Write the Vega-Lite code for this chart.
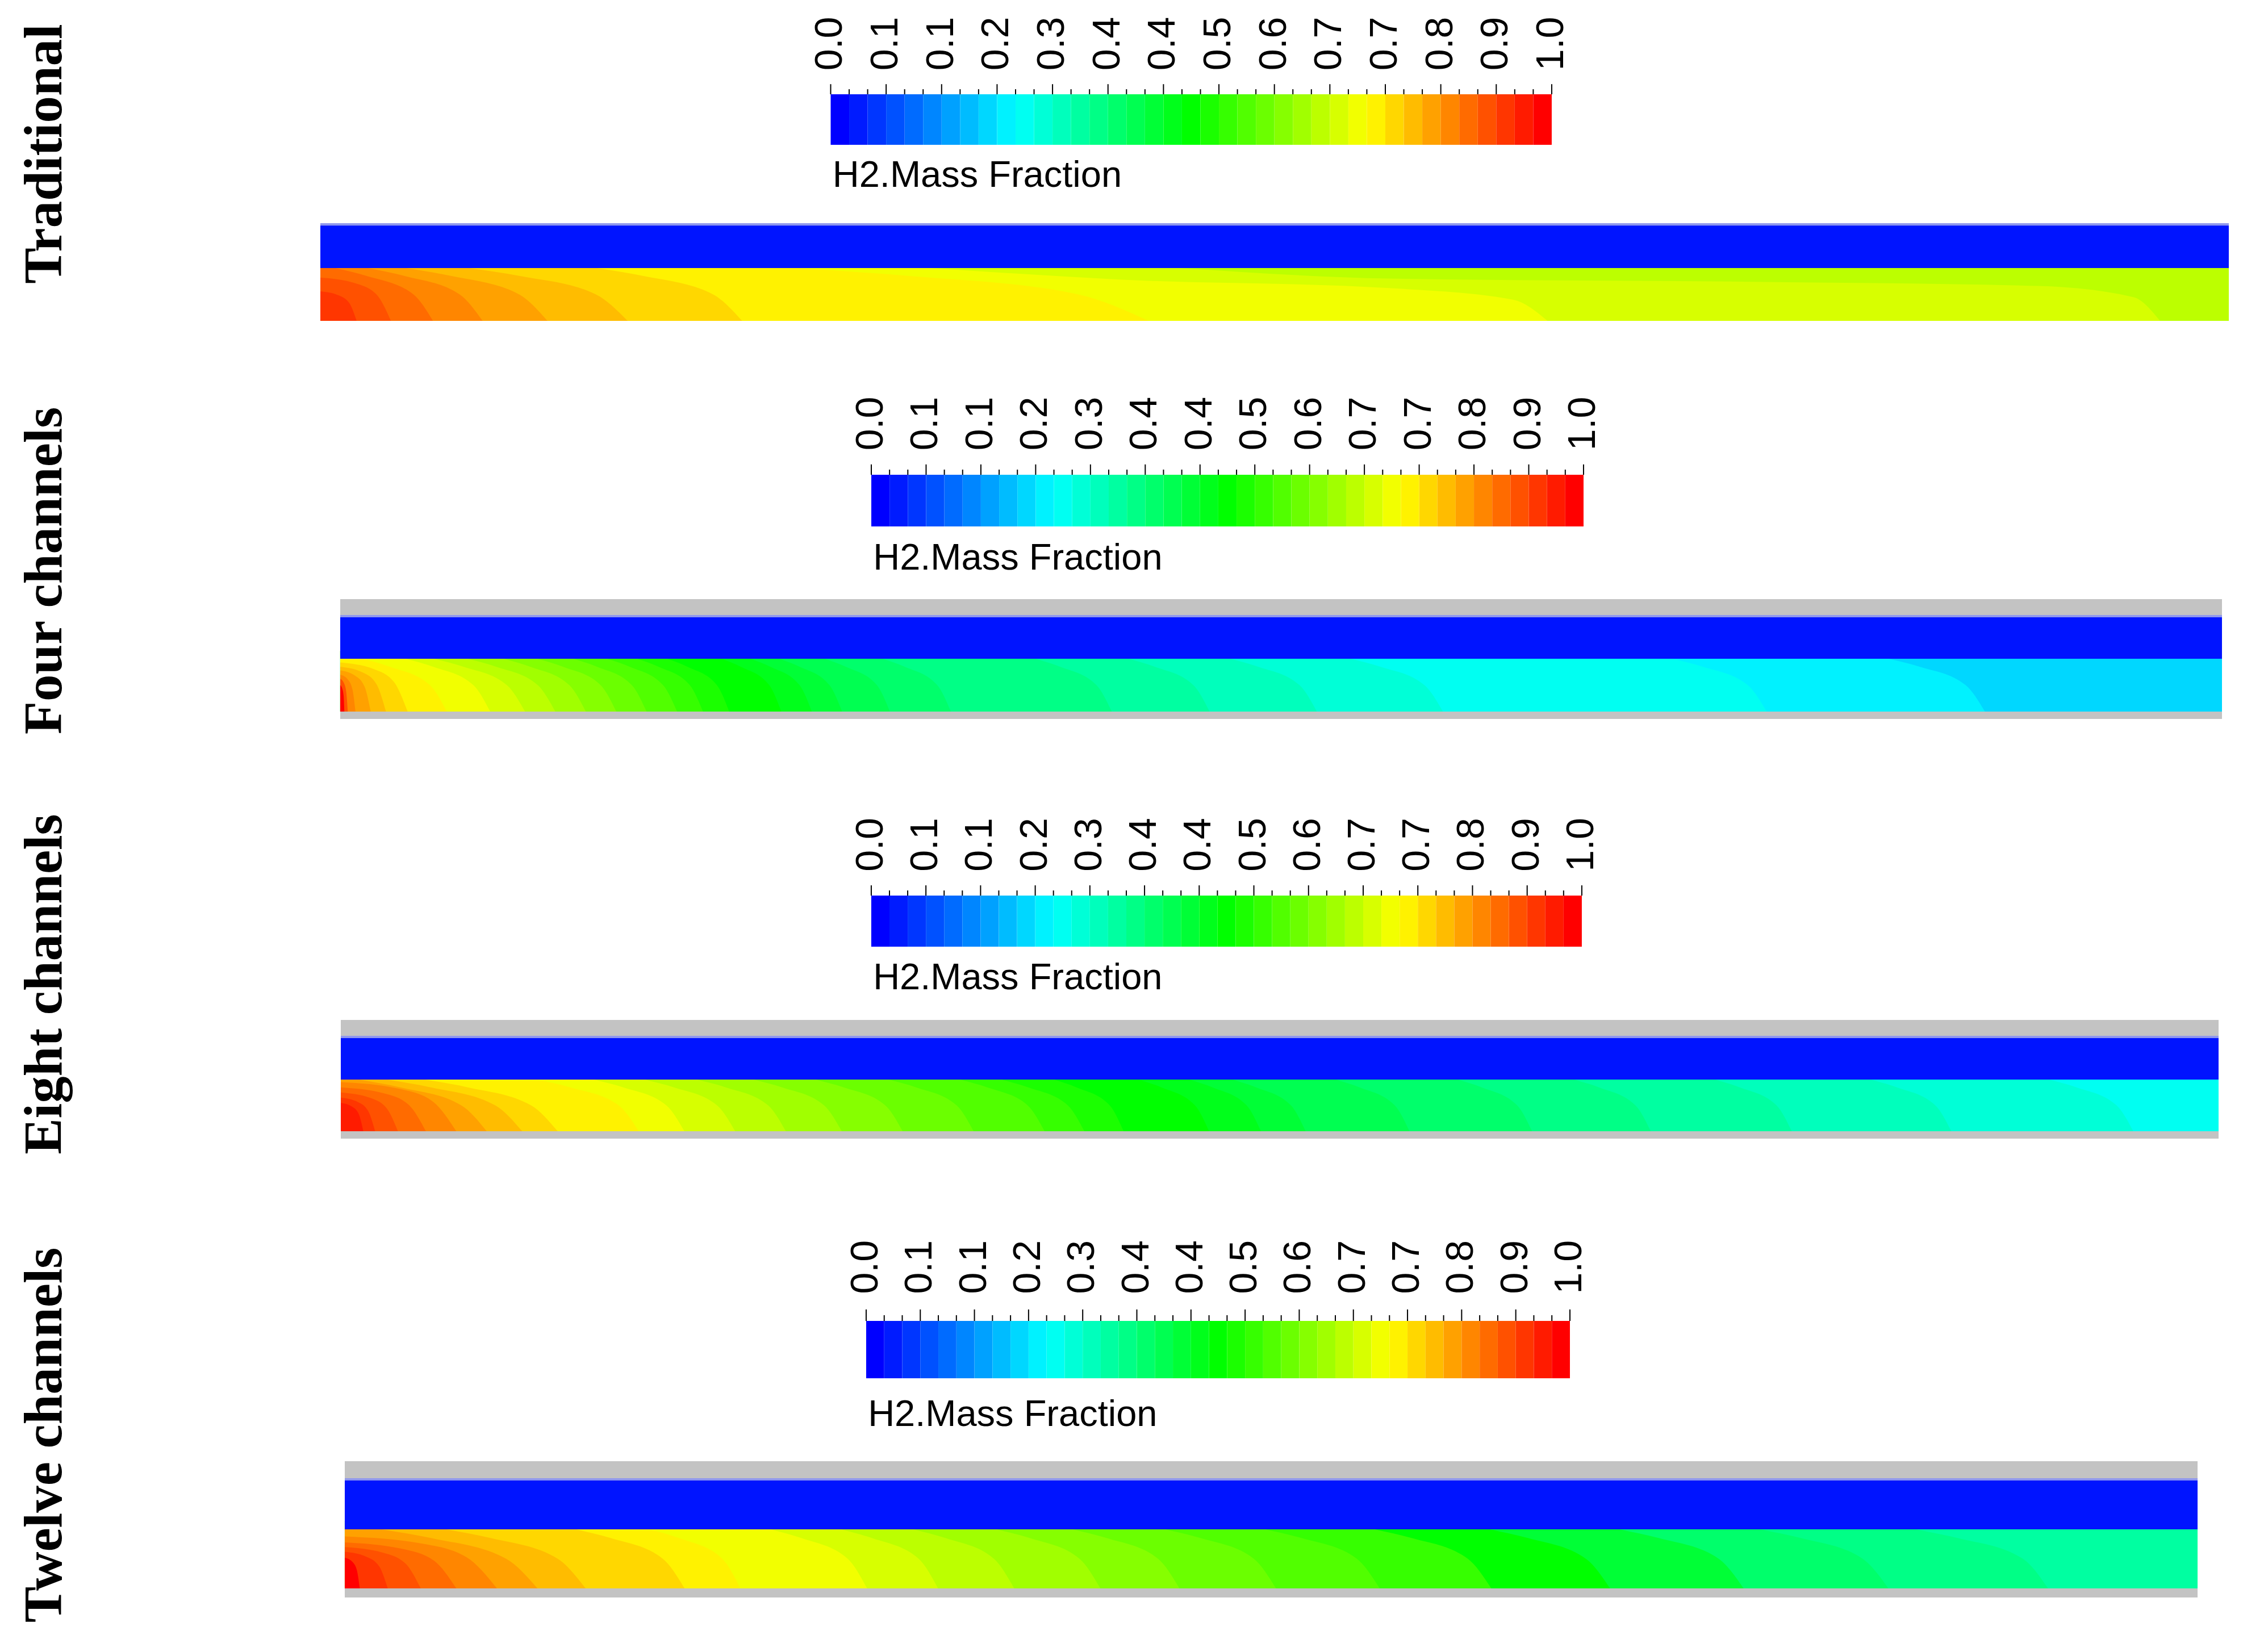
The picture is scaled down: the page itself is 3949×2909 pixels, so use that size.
{
"$schema": "https://vega.github.io/schema/vega-lite/v6.json",
"background": "#ffffff",
"padding": 0,
"spacing": 0,
"bounds": "flush",
"config": {"view": {"stroke": null}},
"datasets": {
"bar": [
{"level":0,"from":0,"to":1},{"level":1,"from":1,"to":2},{"level":2,"from":2,"to":3},{"level":3,"from":3,"to":4},{"level":4,"from":4,"to":5},{"level":5,"from":5,"to":6},{"level":6,"from":6,"to":7},{"level":7,"from":7,"to":8},{"level":8,"from":8,"to":9},{"level":9,"from":9,"to":10},
{"level":10,"from":10,"to":11},{"level":11,"from":11,"to":12},{"level":12,"from":12,"to":13},{"level":13,"from":13,"to":14},{"level":14,"from":14,"to":15},{"level":15,"from":15,"to":16},{"level":16,"from":16,"to":17},{"level":17,"from":17,"to":18},{"level":18,"from":18,"to":19},{"level":19,"from":19,"to":20},
{"level":20,"from":20,"to":21},{"level":21,"from":21,"to":22},{"level":22,"from":22,"to":23},{"level":23,"from":23,"to":24},{"level":24,"from":24,"to":25},{"level":25,"from":25,"to":26},{"level":26,"from":26,"to":27},{"level":27,"from":27,"to":28},{"level":28,"from":28,"to":29},{"level":29,"from":29,"to":30},
{"level":30,"from":30,"to":31},{"level":31,"from":31,"to":32},{"level":32,"from":32,"to":33},{"level":33,"from":33,"to":34},{"level":34,"from":34,"to":35},{"level":35,"from":35,"to":36},{"level":36,"from":36,"to":37},{"level":37,"from":37,"to":38},{"level":38,"from":38,"to":39}
],
"ticks": [
{"t":0,"kind":"major"},{"t":1,"kind":"minor"},{"t":2,"kind":"minor"},{"t":3,"kind":"major"},{"t":4,"kind":"minor"},{"t":5,"kind":"minor"},{"t":6,"kind":"major"},{"t":7,"kind":"minor"},{"t":8,"kind":"minor"},{"t":9,"kind":"major"},
{"t":10,"kind":"minor"},{"t":11,"kind":"minor"},{"t":12,"kind":"major"},{"t":13,"kind":"minor"},{"t":14,"kind":"minor"},{"t":15,"kind":"major"},{"t":16,"kind":"minor"},{"t":17,"kind":"minor"},{"t":18,"kind":"major"},{"t":19,"kind":"minor"},
{"t":20,"kind":"minor"},{"t":21,"kind":"major"},{"t":22,"kind":"minor"},{"t":23,"kind":"minor"},{"t":24,"kind":"major"},{"t":25,"kind":"minor"},{"t":26,"kind":"minor"},{"t":27,"kind":"major"},{"t":28,"kind":"minor"},{"t":29,"kind":"minor"},
{"t":30,"kind":"major"},{"t":31,"kind":"minor"},{"t":32,"kind":"minor"},{"t":33,"kind":"major"},{"t":34,"kind":"minor"},{"t":35,"kind":"minor"},{"t":36,"kind":"major"},{"t":37,"kind":"minor"},{"t":38,"kind":"minor"},{"t":39,"kind":"major"}
],
"labels": [
{"t":0,"label":"0.0"},{"t":3,"label":"0.1"},{"t":6,"label":"0.1"},{"t":9,"label":"0.2"},{"t":12,"label":"0.3"},{"t":15,"label":"0.4"},{"t":18,"label":"0.4"},{"t":21,"label":"0.5"},{"t":24,"label":"0.6"},{"t":27,"label":"0.7"},{"t":30,"label":"0.7"},{"t":33,"label":"0.8"},{"t":36,"label":"0.9"},{"t":39,"label":"1.0"}
],
"names": [
{"panel":1,"name":"Traditional"},{"panel":2,"name":"Four channels"},{"panel":3,"name":"Eight channels"},{"panel":4,"name":"Twelve channels"}
],
"bands": [
{"panel":1,"part":"blue","r0":1,"r1":1.8495},{"panel":1,"part":"edge","r0":1.805,"r1":1.8495},
{"panel":2,"part":"blue","r0":1,"r1":1.828},{"panel":2,"part":"wall","r0":1.828,"r1":2.129},{"panel":2,"part":"wall","r0":-0.1398,"r1":0},{"panel":2,"part":"edge","r0":1.785,"r1":1.828},
{"panel":3,"part":"blue","r0":1,"r1":1.846},{"panel":3,"part":"wall","r0":1.846,"r1":2.154},{"panel":3,"part":"wall","r0":-0.1429,"r1":0},{"panel":3,"part":"edge","r0":1.803,"r1":1.846},
{"panel":4,"part":"blue","r0":1,"r1":1.8654},{"panel":4,"part":"wall","r0":1.8654,"r1":2.1538},{"panel":4,"part":"wall","r0":-0.1538,"r1":0},{"panel":4,"part":"edge","r0":1.827,"r1":1.8654}
],
"contours": [
{"panel":1,"level":26,"z":0,"r":1},{"panel":1,"level":26,"z":1,"r":1},
{"panel":1,"level":27,"z":0,"r":1.15},{"panel":1,"level":27,"z":0.39,"r":1.15},{"panel":1,"level":27,"z":0.45,"r":1},{"panel":1,"level":27,"z":0.56,"r":0.8},{"panel":1,"level":27,"z":0.75,"r":0.74},{"panel":1,"level":27,"z":0.9,"r":0.66},{"panel":1,"level":27,"z":0.95,"r":0.45},{"panel":1,"level":27,"z":0.964,"r":0},
{"panel":1,"level":28,"z":0,"r":1.15},{"panel":1,"level":28,"z":0.26,"r":1.15},{"panel":1,"level":28,"z":0.32,"r":1},{"panel":1,"level":28,"z":0.42,"r":0.78},{"panel":1,"level":28,"z":0.56,"r":0.62},{"panel":1,"level":28,"z":0.625,"r":0.4},{"panel":1,"level":28,"z":0.643,"r":0},
{"panel":1,"level":29,"z":0,"r":1.15},{"panel":1,"level":29,"z":0.1911,"r":1.15},{"panel":1,"level":29,"z":0.25,"r":1},{"panel":1,"level":29,"z":0.3089,"r":0.85},{"panel":1,"level":29,"z":0.3972,"r":0.5},{"panel":1,"level":29,"z":0.434,"r":0},
{"panel":1,"level":30,"z":0,"r":1.15},{"panel":1,"level":30,"z":0.1207,"r":1.15},{"panel":1,"level":30,"z":0.145,"r":1},{"panel":1,"level":30,"z":0.1693,"r":0.85},{"panel":1,"level":30,"z":0.2058,"r":0.5},{"panel":1,"level":30,"z":0.221,"r":0},
{"panel":1,"level":31,"z":0,"r":1.15},{"panel":1,"level":31,"z":0.0514,"r":1.15},{"panel":1,"level":31,"z":0.078,"r":1},{"panel":1,"level":31,"z":0.1046,"r":0.85},{"panel":1,"level":31,"z":0.1444,"r":0.5},{"panel":1,"level":31,"z":0.161,"r":0},
{"panel":1,"level":32,"z":0,"r":1.15},{"panel":1,"level":32,"z":0.0213,"r":1.15},{"panel":1,"level":32,"z":0.045,"r":1},{"panel":1,"level":32,"z":0.0687,"r":0.85},{"panel":1,"level":32,"z":0.1042,"r":0.5},{"panel":1,"level":32,"z":0.119,"r":0},
{"panel":1,"level":33,"z":0,"r":1.15},{"panel":1,"level":33,"z":0.0058,"r":1.15},{"panel":1,"level":33,"z":0.025,"r":1},{"panel":1,"level":33,"z":0.0442,"r":0.85},{"panel":1,"level":33,"z":0.073,"r":0.5},{"panel":1,"level":33,"z":0.085,"r":0},
{"panel":1,"level":34,"z":0,"r":1.074},{"panel":1,"level":34,"z":0.008,"r":1},{"panel":1,"level":34,"z":0.0243,"r":0.85},{"panel":1,"level":34,"z":0.0488,"r":0.5},{"panel":1,"level":34,"z":0.059,"r":0},
{"panel":1,"level":35,"z":0,"r":0.82},{"panel":1,"level":35,"z":0.0185,"r":0.71},{"panel":1,"level":35,"z":0.0296,"r":0.492},{"panel":1,"level":35,"z":0.037,"r":0},
{"panel":1,"level":36,"z":0,"r":0.56},{"panel":1,"level":36,"z":0.0095,"r":0.485},{"panel":1,"level":36,"z":0.0152,"r":0.336},{"panel":1,"level":36,"z":0.019,"r":0},

{"panel":2,"level":8,"z":0,"r":1},{"panel":2,"level":8,"z":1,"r":1},
{"panel":2,"level":9,"z":0,"r":1.15},{"panel":2,"level":9,"z":0.8067,"r":1.15},{"panel":2,"level":9,"z":0.823,"r":1},{"panel":2,"level":9,"z":0.8393,"r":0.85},{"panel":2,"level":9,"z":0.8638,"r":0.5},{"panel":2,"level":9,"z":0.874,"r":0},
{"panel":2,"level":10,"z":0,"r":1.15},{"panel":2,"level":10,"z":0.692,"r":1.15},{"panel":2,"level":10,"z":0.708,"r":1},{"panel":2,"level":10,"z":0.724,"r":0.85},{"panel":2,"level":10,"z":0.748,"r":0.5},{"panel":2,"level":10,"z":0.758,"r":0},
{"panel":2,"level":11,"z":0,"r":1.15},{"panel":2,"level":11,"z":0.5213,"r":1.15},{"panel":2,"level":11,"z":0.537,"r":1},{"panel":2,"level":11,"z":0.5527,"r":0.85},{"panel":2,"level":11,"z":0.5762,"r":0.5},{"panel":2,"level":11,"z":0.586,"r":0},
{"panel":2,"level":12,"z":0,"r":1.15},{"panel":2,"level":12,"z":0.4583,"r":1.15},{"panel":2,"level":12,"z":0.473,"r":1},{"panel":2,"level":12,"z":0.4877,"r":0.85},{"panel":2,"level":12,"z":0.5098,"r":0.5},{"panel":2,"level":12,"z":0.519,"r":0},
{"panel":2,"level":13,"z":0,"r":1.15},{"panel":2,"level":13,"z":0.4052,"r":1.15},{"panel":2,"level":13,"z":0.419,"r":1},{"panel":2,"level":13,"z":0.4328,"r":0.85},{"panel":2,"level":13,"z":0.4534,"r":0.5},{"panel":2,"level":13,"z":0.462,"r":0},
{"panel":2,"level":14,"z":0,"r":1.15},{"panel":2,"level":14,"z":0.3565,"r":1.15},{"panel":2,"level":14,"z":0.3695,"r":1},{"panel":2,"level":14,"z":0.3825,"r":0.85},{"panel":2,"level":14,"z":0.4019,"r":0.5},{"panel":2,"level":14,"z":0.41,"r":0},
{"panel":2,"level":15,"z":0,"r":1.15},{"panel":2,"level":15,"z":0.2767,"r":1.15},{"panel":2,"level":15,"z":0.2883,"r":1},{"panel":2,"level":15,"z":0.2999,"r":0.85},{"panel":2,"level":15,"z":0.3173,"r":0.5},{"panel":2,"level":15,"z":0.3245,"r":0},
{"panel":2,"level":16,"z":0,"r":1.15},{"panel":2,"level":16,"z":0.2464,"r":1.15},{"panel":2,"level":16,"z":0.2575,"r":1},{"panel":2,"level":16,"z":0.2686,"r":0.85},{"panel":2,"level":16,"z":0.2852,"r":0.5},{"panel":2,"level":16,"z":0.2921,"r":0},
{"panel":2,"level":17,"z":0,"r":1.15},{"panel":2,"level":17,"z":0.2227,"r":1.15},{"panel":2,"level":17,"z":0.2334,"r":1},{"panel":2,"level":17,"z":0.2441,"r":0.85},{"panel":2,"level":17,"z":0.26,"r":0.5},{"panel":2,"level":17,"z":0.2667,"r":0},
{"panel":2,"level":18,"z":0,"r":1.15},{"panel":2,"level":18,"z":0.2077,"r":1.15},{"panel":2,"level":18,"z":0.2181,"r":1},{"panel":2,"level":18,"z":0.2285,"r":0.85},{"panel":2,"level":18,"z":0.2441,"r":0.5},{"panel":2,"level":18,"z":0.2506,"r":0},
{"panel":2,"level":19,"z":0,"r":1.15},{"panel":2,"level":19,"z":0.1926,"r":1.15},{"panel":2,"level":19,"z":0.2027,"r":1},{"panel":2,"level":19,"z":0.2128,"r":0.85},{"panel":2,"level":19,"z":0.228,"r":0.5},{"panel":2,"level":19,"z":0.2344,"r":0},
{"panel":2,"level":20,"z":0,"r":1.15},{"panel":2,"level":20,"z":0.1635,"r":1.15},{"panel":2,"level":20,"z":0.174,"r":1},{"panel":2,"level":20,"z":0.1845,"r":0.85},{"panel":2,"level":20,"z":0.2002,"r":0.5},{"panel":2,"level":20,"z":0.2067,"r":0},
{"panel":2,"level":21,"z":0,"r":1.15},{"panel":2,"level":21,"z":0.1469,"r":1.15},{"panel":2,"level":21,"z":0.158,"r":1},{"panel":2,"level":21,"z":0.1691,"r":0.85},{"panel":2,"level":21,"z":0.1858,"r":0.5},{"panel":2,"level":21,"z":0.1928,"r":0},
{"panel":2,"level":22,"z":0,"r":1.15},{"panel":2,"level":22,"z":0.1302,"r":1.15},{"panel":2,"level":22,"z":0.142,"r":1},{"panel":2,"level":22,"z":0.1538,"r":0.85},{"panel":2,"level":22,"z":0.1716,"r":0.5},{"panel":2,"level":22,"z":0.179,"r":0},
{"panel":2,"level":23,"z":0,"r":1.15},{"panel":2,"level":23,"z":0.1116,"r":1.15},{"panel":2,"level":23,"z":0.124,"r":1},{"panel":2,"level":23,"z":0.1364,"r":0.85},{"panel":2,"level":23,"z":0.155,"r":0.5},{"panel":2,"level":23,"z":0.1628,"r":0},
{"panel":2,"level":24,"z":0,"r":1.15},{"panel":2,"level":24,"z":0.0917,"r":1.15},{"panel":2,"level":24,"z":0.105,"r":1},{"panel":2,"level":24,"z":0.1183,"r":0.85},{"panel":2,"level":24,"z":0.1384,"r":0.5},{"panel":2,"level":24,"z":0.1467,"r":0},
{"panel":2,"level":25,"z":0,"r":1.15},{"panel":2,"level":25,"z":0.0731,"r":1.15},{"panel":2,"level":25,"z":0.087,"r":1},{"panel":2,"level":25,"z":0.1009,"r":0.85},{"panel":2,"level":25,"z":0.1218,"r":0.5},{"panel":2,"level":25,"z":0.1305,"r":0},
{"panel":2,"level":26,"z":0,"r":1.15},{"panel":2,"level":26,"z":0.0532,"r":1.15},{"panel":2,"level":26,"z":0.068,"r":1},{"panel":2,"level":26,"z":0.0828,"r":0.85},{"panel":2,"level":26,"z":0.105,"r":0.5},{"panel":2,"level":26,"z":0.1143,"r":0},
{"panel":2,"level":27,"z":0,"r":1.15},{"panel":2,"level":27,"z":0.0346,"r":1.15},{"panel":2,"level":27,"z":0.05,"r":1},{"panel":2,"level":27,"z":0.0654,"r":0.85},{"panel":2,"level":27,"z":0.0886,"r":0.5},{"panel":2,"level":27,"z":0.0982,"r":0},
{"panel":2,"level":28,"z":0,"r":1.15},{"panel":2,"level":28,"z":0.0207,"r":1.15},{"panel":2,"level":28,"z":0.035,"r":1},{"panel":2,"level":28,"z":0.0493,"r":0.85},{"panel":2,"level":28,"z":0.0708,"r":0.5},{"panel":2,"level":28,"z":0.0797,"r":0},
{"panel":2,"level":29,"z":0,"r":1.126},{"panel":2,"level":29,"z":0.012,"r":1},{"panel":2,"level":29,"z":0.0263,"r":0.85},{"panel":2,"level":29,"z":0.0477,"r":0.5},{"panel":2,"level":29,"z":0.0566,"r":0},
{"panel":2,"level":30,"z":0,"r":0.93},{"panel":2,"level":30,"z":0.0179,"r":0.805},{"panel":2,"level":30,"z":0.0286,"r":0.558},{"panel":2,"level":30,"z":0.0358,"r":0},
{"panel":2,"level":31,"z":0,"r":0.85},{"panel":2,"level":31,"z":0.0122,"r":0.736},{"panel":2,"level":31,"z":0.0194,"r":0.51},{"panel":2,"level":31,"z":0.0243,"r":0},
{"panel":2,"level":32,"z":0,"r":0.78},{"panel":2,"level":32,"z":0.0081,"r":0.675},{"panel":2,"level":32,"z":0.013,"r":0.468},{"panel":2,"level":32,"z":0.0162,"r":0},
{"panel":2,"level":33,"z":0,"r":0.7},{"panel":2,"level":33,"z":0.0041,"r":0.606},{"panel":2,"level":33,"z":0.0065,"r":0.42},{"panel":2,"level":33,"z":0.0081,"r":0},
{"panel":2,"level":35,"z":0,"r":0.62},{"panel":2,"level":35,"z":0.002,"r":0.537},{"panel":2,"level":35,"z":0.0032,"r":0.372},{"panel":2,"level":35,"z":0.004,"r":0},
{"panel":2,"level":38,"z":0,"r":0.5},{"panel":2,"level":38,"z":0.0011,"r":0.433},{"panel":2,"level":38,"z":0.0018,"r":0.3},{"panel":2,"level":38,"z":0.0022,"r":0},

{"panel":3,"level":10,"z":0,"r":1},{"panel":3,"level":10,"z":1,"r":1},
{"panel":3,"level":11,"z":0,"r":1.15},{"panel":3,"level":11,"z":0.8957,"r":1.15},{"panel":3,"level":11,"z":0.91,"r":1},{"panel":3,"level":11,"z":0.9243,"r":0.85},{"panel":3,"level":11,"z":0.9457,"r":0.5},{"panel":3,"level":11,"z":0.9546,"r":0},
{"panel":3,"level":12,"z":0,"r":1.15},{"panel":3,"level":12,"z":0.8013,"r":1.15},{"panel":3,"level":12,"z":0.815,"r":1},{"panel":3,"level":12,"z":0.8287,"r":0.85},{"panel":3,"level":12,"z":0.8492,"r":0.5},{"panel":3,"level":12,"z":0.8577,"r":0},
{"panel":3,"level":13,"z":0,"r":1.15},{"panel":3,"level":13,"z":0.719,"r":1.15},{"panel":3,"level":13,"z":0.732,"r":1},{"panel":3,"level":13,"z":0.745,"r":0.85},{"panel":3,"level":13,"z":0.7646,"r":0.5},{"panel":3,"level":13,"z":0.7727,"r":0},
{"panel":3,"level":14,"z":0,"r":1.15},{"panel":3,"level":14,"z":0.644,"r":1.15},{"panel":3,"level":14,"z":0.657,"r":1},{"panel":3,"level":14,"z":0.67,"r":0.85},{"panel":3,"level":14,"z":0.6895,"r":0.5},{"panel":3,"level":14,"z":0.6976,"r":0},
{"panel":3,"level":15,"z":0,"r":1.15},{"panel":3,"level":15,"z":0.5824,"r":1.15},{"panel":3,"level":15,"z":0.595,"r":1},{"panel":3,"level":15,"z":0.6076,"r":0.85},{"panel":3,"level":15,"z":0.6265,"r":0.5},{"panel":3,"level":15,"z":0.6344,"r":0},
{"panel":3,"level":16,"z":0,"r":1.15},{"panel":3,"level":16,"z":0.5175,"r":1.15},{"panel":3,"level":16,"z":0.53,"r":1},{"panel":3,"level":16,"z":0.5425,"r":0.85},{"panel":3,"level":16,"z":0.5613,"r":0.5},{"panel":3,"level":16,"z":0.5691,"r":0},
{"panel":3,"level":17,"z":0,"r":1.15},{"panel":3,"level":17,"z":0.4626,"r":1.15},{"panel":3,"level":17,"z":0.475,"r":1},{"panel":3,"level":17,"z":0.4874,"r":0.85},{"panel":3,"level":17,"z":0.506,"r":0.5},{"panel":3,"level":17,"z":0.5138,"r":0},
{"panel":3,"level":18,"z":0,"r":1.15},{"panel":3,"level":18,"z":0.4398,"r":1.15},{"panel":3,"level":18,"z":0.452,"r":1},{"panel":3,"level":18,"z":0.4642,"r":0.85},{"panel":3,"level":18,"z":0.4824,"r":0.5},{"panel":3,"level":18,"z":0.49,"r":0},
{"panel":3,"level":19,"z":0,"r":1.15},{"panel":3,"level":19,"z":0.413,"r":1.15},{"panel":3,"level":19,"z":0.425,"r":1},{"panel":3,"level":19,"z":0.437,"r":0.85},{"panel":3,"level":19,"z":0.4549,"r":0.5},{"panel":3,"level":19,"z":0.4624,"r":0},
{"panel":3,"level":20,"z":0,"r":1.15},{"panel":3,"level":20,"z":0.3682,"r":1.15},{"panel":3,"level":20,"z":0.38,"r":1},{"panel":3,"level":20,"z":0.3918,"r":0.85},{"panel":3,"level":20,"z":0.4095,"r":0.5},{"panel":3,"level":20,"z":0.4169,"r":0},
{"panel":3,"level":21,"z":0,"r":1.15},{"panel":3,"level":21,"z":0.3379,"r":1.15},{"panel":3,"level":21,"z":0.352,"r":1},{"panel":3,"level":21,"z":0.3661,"r":0.85},{"panel":3,"level":21,"z":0.3872,"r":0.5},{"panel":3,"level":21,"z":0.396,"r":0},
{"panel":3,"level":22,"z":0,"r":1.15},{"panel":3,"level":22,"z":0.3157,"r":1.15},{"panel":3,"level":22,"z":0.33,"r":1},{"panel":3,"level":22,"z":0.3443,"r":0.85},{"panel":3,"level":22,"z":0.3658,"r":0.5},{"panel":3,"level":22,"z":0.3748,"r":0},
{"panel":3,"level":23,"z":0,"r":1.15},{"panel":3,"level":23,"z":0.2776,"r":1.15},{"panel":3,"level":23,"z":0.292,"r":1},{"panel":3,"level":23,"z":0.3064,"r":0.85},{"panel":3,"level":23,"z":0.328,"r":0.5},{"panel":3,"level":23,"z":0.337,"r":0},
{"panel":3,"level":24,"z":0,"r":1.15},{"panel":3,"level":24,"z":0.2382,"r":1.15},{"panel":3,"level":24,"z":0.253,"r":1},{"panel":3,"level":24,"z":0.2678,"r":0.85},{"panel":3,"level":24,"z":0.29,"r":0.5},{"panel":3,"level":24,"z":0.2992,"r":0},
{"panel":3,"level":25,"z":0,"r":1.15},{"panel":3,"level":25,"z":0.205,"r":1.15},{"panel":3,"level":25,"z":0.22,"r":1},{"panel":3,"level":25,"z":0.235,"r":0.85},{"panel":3,"level":25,"z":0.2574,"r":0.5},{"panel":3,"level":25,"z":0.2668,"r":0},
{"panel":3,"level":26,"z":0,"r":1.15},{"panel":3,"level":26,"z":0.175,"r":1.15},{"panel":3,"level":26,"z":0.19,"r":1},{"panel":3,"level":26,"z":0.205,"r":0.85},{"panel":3,"level":26,"z":0.2276,"r":0.5},{"panel":3,"level":26,"z":0.237,"r":0},
{"panel":3,"level":27,"z":0,"r":1.15},{"panel":3,"level":27,"z":0.1466,"r":1.15},{"panel":3,"level":27,"z":0.162,"r":1},{"panel":3,"level":27,"z":0.1774,"r":0.85},{"panel":3,"level":27,"z":0.2004,"r":0.5},{"panel":3,"level":27,"z":0.21,"r":0},
{"panel":3,"level":28,"z":0,"r":1.15},{"panel":3,"level":28,"z":0.1196,"r":1.15},{"panel":3,"level":28,"z":0.135,"r":1},{"panel":3,"level":28,"z":0.1504,"r":0.85},{"panel":3,"level":28,"z":0.1734,"r":0.5},{"panel":3,"level":28,"z":0.183,"r":0},
{"panel":3,"level":29,"z":0,"r":1.15},{"panel":3,"level":29,"z":0.0878,"r":1.15},{"panel":3,"level":29,"z":0.105,"r":1},{"panel":3,"level":29,"z":0.1222,"r":0.85},{"panel":3,"level":29,"z":0.148,"r":0.5},{"panel":3,"level":29,"z":0.1587,"r":0},
{"panel":3,"level":30,"z":0,"r":1.15},{"panel":3,"level":30,"z":0.0224,"r":1.15},{"panel":3,"level":30,"z":0.045,"r":1},{"panel":3,"level":30,"z":0.0676,"r":0.85},{"panel":3,"level":30,"z":0.1014,"r":0.5},{"panel":3,"level":30,"z":0.1155,"r":0},
{"panel":3,"level":31,"z":0,"r":1.15},{"panel":3,"level":31,"z":0.0021,"r":1.15},{"panel":3,"level":31,"z":0.025,"r":1},{"panel":3,"level":31,"z":0.0479,"r":0.85},{"panel":3,"level":31,"z":0.0823,"r":0.5},{"panel":3,"level":31,"z":0.0966,"r":0},
{"panel":3,"level":32,"z":0,"r":1.069},{"panel":3,"level":32,"z":0.01,"r":1},{"panel":3,"level":32,"z":0.0317,"r":0.85},{"panel":3,"level":32,"z":0.0642,"r":0.5},{"panel":3,"level":32,"z":0.0777,"r":0},
{"panel":3,"level":33,"z":0,"r":0.95},{"panel":3,"level":33,"z":0.0308,"r":0.823},{"panel":3,"level":33,"z":0.0492,"r":0.57},{"panel":3,"level":33,"z":0.0615,"r":0},
{"panel":3,"level":34,"z":0,"r":0.85},{"panel":3,"level":34,"z":0.0227,"r":0.736},{"panel":3,"level":34,"z":0.0362,"r":0.51},{"panel":3,"level":34,"z":0.0453,"r":0},
{"panel":3,"level":35,"z":0,"r":0.75},{"panel":3,"level":35,"z":0.0152,"r":0.65},{"panel":3,"level":35,"z":0.0243,"r":0.45},{"panel":3,"level":35,"z":0.0304,"r":0},
{"panel":3,"level":36,"z":0,"r":0.65},{"panel":3,"level":36,"z":0.0092,"r":0.563},{"panel":3,"level":36,"z":0.0146,"r":0.39},{"panel":3,"level":36,"z":0.0183,"r":0},
{"panel":3,"level":37,"z":0,"r":0.55},{"panel":3,"level":37,"z":0.006,"r":0.476},{"panel":3,"level":37,"z":0.0096,"r":0.33},{"panel":3,"level":37,"z":0.012,"r":0},

{"panel":4,"level":13,"z":0,"r":1},{"panel":4,"level":13,"z":1,"r":1},
{"panel":4,"level":14,"z":0,"r":1.15},{"panel":4,"level":14,"z":0.8252,"r":1.15},{"panel":4,"level":14,"z":0.848,"r":1},{"panel":4,"level":14,"z":0.8708,"r":0.85},{"panel":4,"level":14,"z":0.9058,"r":0.5},{"panel":4,"level":14,"z":0.9193,"r":0},
{"panel":4,"level":15,"z":0,"r":1.15},{"panel":4,"level":15,"z":0.7419,"r":1.15},{"panel":4,"level":15,"z":0.764,"r":1},{"panel":4,"level":15,"z":0.7861,"r":0.85},{"panel":4,"level":15,"z":0.8193,"r":0.5},{"panel":4,"level":15,"z":0.8331,"r":0},
{"panel":4,"level":17,"z":0,"r":1.15},{"panel":4,"level":17,"z":0.6666,"r":1.15},{"panel":4,"level":17,"z":0.688,"r":1},{"panel":4,"level":17,"z":0.7094,"r":0.85},{"panel":4,"level":17,"z":0.7416,"r":0.5},{"panel":4,"level":17,"z":0.755,"r":0},
{"panel":4,"level":19,"z":0,"r":1.15},{"panel":4,"level":19,"z":0.5972,"r":1.15},{"panel":4,"level":19,"z":0.618,"r":1},{"panel":4,"level":19,"z":0.6388,"r":0.85},{"panel":4,"level":19,"z":0.6699,"r":0.5},{"panel":4,"level":19,"z":0.6829,"r":0},
{"panel":4,"level":21,"z":0,"r":1.15},{"panel":4,"level":21,"z":0.5359,"r":1.15},{"panel":4,"level":21,"z":0.556,"r":1},{"panel":4,"level":21,"z":0.5761,"r":0.85},{"panel":4,"level":21,"z":0.6062,"r":0.5},{"panel":4,"level":21,"z":0.6188,"r":0},
{"panel":4,"level":22,"z":0,"r":1.15},{"panel":4,"level":22,"z":0.4773,"r":1.15},{"panel":4,"level":22,"z":0.497,"r":1},{"panel":4,"level":22,"z":0.5167,"r":0.85},{"panel":4,"level":22,"z":0.5463,"r":0.5},{"panel":4,"level":22,"z":0.5586,"r":0},
{"panel":4,"level":23,"z":0,"r":1.15},{"panel":4,"level":23,"z":0.4239,"r":1.15},{"panel":4,"level":23,"z":0.443,"r":1},{"panel":4,"level":23,"z":0.4621,"r":0.85},{"panel":4,"level":23,"z":0.4907,"r":0.5},{"panel":4,"level":23,"z":0.5026,"r":0},
{"panel":4,"level":24,"z":0,"r":1.15},{"panel":4,"level":24,"z":0.3746,"r":1.15},{"panel":4,"level":24,"z":0.393,"r":1},{"panel":4,"level":24,"z":0.4114,"r":0.85},{"panel":4,"level":24,"z":0.439,"r":0.5},{"panel":4,"level":24,"z":0.4505,"r":0},
{"panel":4,"level":25,"z":0,"r":1.15},{"panel":4,"level":25,"z":0.3341,"r":1.15},{"panel":4,"level":25,"z":0.352,"r":1},{"panel":4,"level":25,"z":0.3699,"r":0.85},{"panel":4,"level":25,"z":0.3966,"r":0.5},{"panel":4,"level":25,"z":0.4078,"r":0},
{"panel":4,"level":26,"z":0,"r":1.15},{"panel":4,"level":26,"z":0.2896,"r":1.15},{"panel":4,"level":26,"z":0.307,"r":1},{"panel":4,"level":26,"z":0.3244,"r":0.85},{"panel":4,"level":26,"z":0.3504,"r":0.5},{"panel":4,"level":26,"z":0.3613,"r":0},
{"panel":4,"level":27,"z":0,"r":1.15},{"panel":4,"level":27,"z":0.2513,"r":1.15},{"panel":4,"level":27,"z":0.268,"r":1},{"panel":4,"level":27,"z":0.2847,"r":0.85},{"panel":4,"level":27,"z":0.3098,"r":0.5},{"panel":4,"level":27,"z":0.3202,"r":0},
{"panel":4,"level":28,"z":0,"r":1.15},{"panel":4,"level":28,"z":0.2134,"r":1.15},{"panel":4,"level":28,"z":0.23,"r":1},{"panel":4,"level":28,"z":0.2466,"r":0.85},{"panel":4,"level":28,"z":0.2715,"r":0.5},{"panel":4,"level":28,"z":0.2819,"r":0},
{"panel":4,"level":29,"z":0,"r":1.15},{"panel":4,"level":29,"z":0.1495,"r":1.15},{"panel":4,"level":29,"z":0.165,"r":1},{"panel":4,"level":29,"z":0.1805,"r":0.85},{"panel":4,"level":29,"z":0.2038,"r":0.5},{"panel":4,"level":29,"z":0.2135,"r":0},
{"panel":4,"level":30,"z":0,"r":1.15},{"panel":4,"level":30,"z":0.1063,"r":1.15},{"panel":4,"level":30,"z":0.125,"r":1},{"panel":4,"level":30,"z":0.1437,"r":0.85},{"panel":4,"level":30,"z":0.1717,"r":0.5},{"panel":4,"level":30,"z":0.1834,"r":0},
{"panel":4,"level":31,"z":0,"r":1.15},{"panel":4,"level":31,"z":0.031,"r":1.15},{"panel":4,"level":31,"z":0.055,"r":1},{"panel":4,"level":31,"z":0.079,"r":0.85},{"panel":4,"level":31,"z":0.115,"r":0.5},{"panel":4,"level":31,"z":0.13,"r":0},
{"panel":4,"level":32,"z":0,"r":1.112},{"panel":4,"level":32,"z":0.02,"r":1},{"panel":4,"level":32,"z":0.0469,"r":0.85},{"panel":4,"level":32,"z":0.0872,"r":0.5},{"panel":4,"level":32,"z":0.104,"r":0},
{"panel":4,"level":33,"z":0,"r":0.88},{"panel":4,"level":33,"z":0.0411,"r":0.762},{"panel":4,"level":33,"z":0.0657,"r":0.528},{"panel":4,"level":33,"z":0.0821,"r":0},
{"panel":4,"level":34,"z":0,"r":0.78},{"panel":4,"level":34,"z":0.0301,"r":0.675},{"panel":4,"level":34,"z":0.0482,"r":0.468},{"panel":4,"level":34,"z":0.0602,"r":0},
{"panel":4,"level":35,"z":0,"r":0.7},{"panel":4,"level":35,"z":0.0205,"r":0.606},{"panel":4,"level":35,"z":0.0328,"r":0.42},{"panel":4,"level":35,"z":0.041,"r":0},
{"panel":4,"level":36,"z":0,"r":0.62},{"panel":4,"level":36,"z":0.0116,"r":0.537},{"panel":4,"level":36,"z":0.0186,"r":0.372},{"panel":4,"level":36,"z":0.0232,"r":0},
{"panel":4,"level":38,"z":0,"r":0.52},{"panel":4,"level":38,"z":0.0041,"r":0.45},{"panel":4,"level":38,"z":0.0065,"r":0.312},{"panel":4,"level":38,"z":0.0081,"r":0}
]
},
"vconcat": [
{
"width": 3949, "height": 640,
"layer": [
{"layer": [
{"data": {"name": "bar"}, "mark": {"type": "rect"},
 "encoding": {
  "x": {"field": "from", "type": "quantitative", "scale": {"domain": [-44.93, 76.39], "nice": false, "zero": false}, "axis": null},
  "x2": {"field": "to"},
  "y": {"datum": 0, "type": "quantitative", "scale": {"domain": [-4.3258, 2.8652], "nice": false, "zero": false}, "axis": null},
  "y2": {"datum": 1},
  "color": {"field": "level", "type": "ordinal", "legend": null, "scale": {"domain": [0,1,2,3,4,5,6,7,8,9,10,11,12,13,14,15,16,17,18,19,20,21,22,23,24,25,26,27,28,29,30,31,32,33,34,35,36,37,38], "range": ["#0000ff","#001bff","#0036ff","#0051ff","#006bff","#0086ff","#00a1ff","#00bcff","#00d7ff","#00f2ff","#00fff2","#00ffd7","#00ffbc","#00ffa1","#00ff86","#00ff6b","#00ff51","#00ff36","#00ff1b","#00ff00","#1bff00","#36ff00","#51ff00","#6bff00","#86ff00","#a1ff00","#bcff00","#d7ff00","#f2ff00","#fff200","#ffd700","#ffbc00","#ffa100","#ff8600","#ff6b00","#ff5100","#ff3600","#ff1b00","#ff0000"]}}
 }},
{"data": {"name": "ticks"}, "transform": [{"filter": "datum.kind === 'major'"}], "mark": {"type": "rule", "color": "#000000", "strokeWidth": 2},
 "encoding": {"x": {"field": "t", "type": "quantitative", "scale": {"domain": [-44.93, 76.39], "nice": false, "zero": false}, "axis": null},
  "y": {"datum": 1, "type": "quantitative", "scale": {"domain": [-4.3258, 2.8652], "nice": false, "zero": false}, "axis": null}, "y2": {"datum": 1.2}}},
{"data": {"name": "ticks"}, "transform": [{"filter": "datum.kind === 'minor'"}], "mark": {"type": "rule", "color": "#000000", "strokeWidth": 2},
 "encoding": {"x": {"field": "t", "type": "quantitative", "scale": {"domain": [-44.93, 76.39], "nice": false, "zero": false}, "axis": null},
  "y": {"datum": 1, "type": "quantitative", "scale": {"domain": [-4.3258, 2.8652], "nice": false, "zero": false}, "axis": null}, "y2": {"datum": 1.1}}},
{"data": {"name": "labels"}, "mark": {"type": "text", "angle": 270, "align": "left", "baseline": "middle", "font": "Liberation Sans", "fontSize": 68, "color": "#000000"},
 "encoding": {"x": {"field": "t", "type": "quantitative", "scale": {"domain": [-44.93, 76.39], "nice": false, "zero": false}, "axis": null},
  "y": {"datum": 1.47, "type": "quantitative", "scale": {"domain": [-4.3258, 2.8652], "nice": false, "zero": false}, "axis": null}, "text": {"field": "label"}}},
{"data": {"values": [{"title": "H2.Mass Fraction"}]}, "mark": {"type": "text", "align": "left", "baseline": "alphabetic", "font": "Liberation Sans", "fontSize": 65, "color": "#000000"},
 "encoding": {"x": {"datum": 0.1, "type": "quantitative", "scale": {"domain": [-44.93, 76.39], "nice": false, "zero": false}, "axis": null},
  "y": {"datum": -0.83, "type": "quantitative", "scale": {"domain": [-4.3258, 2.8652], "nice": false, "zero": false}, "axis": null}, "text": {"field": "title"}}}
]},
{"layer": [
{"data": {"name": "bands"}, "transform": [{"filter": "datum.panel === 1 && datum.part === 'wall'"}], "mark": {"type": "rect", "color": "#c3c3c3"},
 "encoding": {"x": {"datum": 0, "type": "quantitative", "scale": {"domain": [-0.16786, 1.00744], "nice": false, "zero": false}, "axis": null}, "x2": {"datum": 1},
  "y": {"field": "r0", "type": "quantitative", "scale": {"domain": [-0.8065, 6.0753], "nice": false, "zero": false}, "axis": null}, "y2": {"field": "r1"}}},
{"data": {"name": "contours"}, "transform": [{"filter": "datum.panel === 1"}], "mark": {"type": "area", "interpolate": "monotone"},
 "encoding": {"x": {"field": "z", "type": "quantitative", "scale": {"domain": [-0.16786, 1.00744], "nice": false, "zero": false}, "axis": null},
  "y": {"field": "r", "type": "quantitative", "stack": null, "scale": {"domain": [-0.8065, 6.0753], "nice": false, "zero": false}, "axis": null}, "y2": {"datum": 0},
  "color": {"field": "level", "type": "ordinal", "legend": null}}},
{"data": {"name": "bands"}, "transform": [{"filter": "datum.panel === 1 && datum.part === 'blue'"}], "mark": {"type": "rect", "color": "#0014ff"},
 "encoding": {"x": {"datum": 0, "type": "quantitative", "scale": {"domain": [-0.16786, 1.00744], "nice": false, "zero": false}, "axis": null}, "x2": {"datum": 1},
  "y": {"field": "r0", "type": "quantitative", "scale": {"domain": [-0.8065, 6.0753], "nice": false, "zero": false}, "axis": null}, "y2": {"field": "r1"}}},
{"data": {"name": "bands"}, "transform": [{"filter": "datum.panel === 1 && datum.part === 'edge'"}], "mark": {"type": "rect", "color": "#8f97ee"},
 "encoding": {"x": {"datum": 0, "type": "quantitative", "scale": {"domain": [-0.16786, 1.00744], "nice": false, "zero": false}, "axis": null}, "x2": {"datum": 1},
  "y": {"field": "r0", "type": "quantitative", "scale": {"domain": [-0.8065, 6.0753], "nice": false, "zero": false}, "axis": null}, "y2": {"field": "r1"}}},
{"data": {"name": "names"}, "transform": [{"filter": "datum.panel === 1"}], "mark": {"type": "text", "angle": 270, "align": "center", "baseline": "alphabetic", "font": "Liberation Serif", "fontWeight": "bold", "fontSize": 95, "color": "#000000"},
 "encoding": {"x": {"datum": -0.1357, "type": "quantitative", "scale": {"domain": [-0.16786, 1.00744], "nice": false, "zero": false}, "axis": null},
  "y": {"datum": 3.161, "type": "quantitative", "scale": {"domain": [-0.8065, 6.0753], "nice": false, "zero": false}, "axis": null}, "text": {"field": "name"}}}
]}
],
"resolve": {"scale": {"x": "independent", "y": "independent"}}
},
{
"width": 3949, "height": 750,
"layer": [
{"layer": [
{"data": {"name": "bar"}, "mark": {"type": "rect"},
 "encoding": {
  "x": {"field": "from", "type": "quantitative", "scale": {"domain": [-47.71, 75.11], "nice": false, "zero": false}, "axis": null},
  "x2": {"field": "to"},
  "y": {"datum": 0, "type": "quantitative", "scale": {"domain": [-5.0879, 3.1538], "nice": false, "zero": false}, "axis": null},
  "y2": {"datum": 1},
  "color": {"field": "level", "type": "ordinal", "legend": null}
 }},
{"data": {"name": "ticks"}, "transform": [{"filter": "datum.kind === 'major'"}], "mark": {"type": "rule", "color": "#000000", "strokeWidth": 2},
 "encoding": {"x": {"field": "t", "type": "quantitative", "scale": {"domain": [-47.71, 75.11], "nice": false, "zero": false}, "axis": null},
  "y": {"datum": 1, "type": "quantitative", "scale": {"domain": [-5.0879, 3.1538], "nice": false, "zero": false}, "axis": null}, "y2": {"datum": 1.2}}},
{"data": {"name": "ticks"}, "transform": [{"filter": "datum.kind === 'minor'"}], "mark": {"type": "rule", "color": "#000000", "strokeWidth": 2},
 "encoding": {"x": {"field": "t", "type": "quantitative", "scale": {"domain": [-47.71, 75.11], "nice": false, "zero": false}, "axis": null},
  "y": {"datum": 1, "type": "quantitative", "scale": {"domain": [-5.0879, 3.1538], "nice": false, "zero": false}, "axis": null}, "y2": {"datum": 1.1}}},
{"data": {"name": "labels"}, "mark": {"type": "text", "angle": 270, "align": "left", "baseline": "middle", "font": "Liberation Sans", "fontSize": 68, "color": "#000000"},
 "encoding": {"x": {"field": "t", "type": "quantitative", "scale": {"domain": [-47.71, 75.11], "nice": false, "zero": false}, "axis": null},
  "y": {"datum": 1.47, "type": "quantitative", "scale": {"domain": [-5.0879, 3.1538], "nice": false, "zero": false}, "axis": null}, "text": {"field": "label"}}},
{"data": {"values": [{"title": "H2.Mass Fraction"}]}, "mark": {"type": "text", "align": "left", "baseline": "alphabetic", "font": "Liberation Sans", "fontSize": 65, "color": "#000000"},
 "encoding": {"x": {"datum": 0.1, "type": "quantitative", "scale": {"domain": [-47.71, 75.11], "nice": false, "zero": false}, "axis": null},
  "y": {"datum": -0.83, "type": "quantitative", "scale": {"domain": [-5.0879, 3.1538], "nice": false, "zero": false}, "axis": null}, "text": {"field": "title"}}}
]},
{"layer": [
{"data": {"name": "bands"}, "transform": [{"filter": "datum.panel === 2 && datum.part === 'wall'"}], "mark": {"type": "rect", "color": "#c3c3c3"},
 "encoding": {"x": {"datum": 0, "type": "quantitative", "scale": {"domain": [-0.1808, 1.01117], "nice": false, "zero": false}, "axis": null}, "x2": {"datum": 1},
  "y": {"field": "r0", "type": "quantitative", "scale": {"domain": [-1.4731, 6.5914], "nice": false, "zero": false}, "axis": null}, "y2": {"field": "r1"}}},
{"data": {"name": "contours"}, "transform": [{"filter": "datum.panel === 2"}], "mark": {"type": "area", "interpolate": "monotone"},
 "encoding": {"x": {"field": "z", "type": "quantitative", "scale": {"domain": [-0.1808, 1.01117], "nice": false, "zero": false}, "axis": null},
  "y": {"field": "r", "type": "quantitative", "stack": null, "scale": {"domain": [-1.4731, 6.5914], "nice": false, "zero": false}, "axis": null}, "y2": {"datum": 0},
  "color": {"field": "level", "type": "ordinal", "legend": null}}},
{"data": {"name": "bands"}, "transform": [{"filter": "datum.panel === 2 && datum.part === 'blue'"}], "mark": {"type": "rect", "color": "#0014ff"},
 "encoding": {"x": {"datum": 0, "type": "quantitative", "scale": {"domain": [-0.1808, 1.01117], "nice": false, "zero": false}, "axis": null}, "x2": {"datum": 1},
  "y": {"field": "r0", "type": "quantitative", "scale": {"domain": [-1.4731, 6.5914], "nice": false, "zero": false}, "axis": null}, "y2": {"field": "r1"}}},
{"data": {"name": "bands"}, "transform": [{"filter": "datum.panel === 2 && datum.part === 'edge'"}], "mark": {"type": "rect", "color": "#8f97ee"},
 "encoding": {"x": {"datum": 0, "type": "quantitative", "scale": {"domain": [-0.1808, 1.01117], "nice": false, "zero": false}, "axis": null}, "x2": {"datum": 1},
  "y": {"field": "r0", "type": "quantitative", "scale": {"domain": [-1.4731, 6.5914], "nice": false, "zero": false}, "axis": null}, "y2": {"field": "r1"}}},
{"data": {"name": "names"}, "transform": [{"filter": "datum.panel === 2"}], "mark": {"type": "text", "angle": 270, "align": "center", "baseline": "alphabetic", "font": "Liberation Serif", "fontWeight": "bold", "fontSize": 95, "color": "#000000"},
 "encoding": {"x": {"datum": -0.1482, "type": "quantitative", "scale": {"domain": [-0.1808, 1.01117], "nice": false, "zero": false}, "axis": null},
  "y": {"datum": 2.667, "type": "quantitative", "scale": {"domain": [-1.4731, 6.5914], "nice": false, "zero": false}, "axis": null}, "text": {"field": "name"}}}
]}
],
"resolve": {"scale": {"x": "independent", "y": "independent"}}
},
{
"width": 3949, "height": 730,
"layer": [
{"layer": [
{"data": {"name": "bar"}, "mark": {"type": "rect"},
 "encoding": {
  "x": {"field": "from", "type": "quantitative", "scale": {"domain": [-47.82, 75.29], "nice": false, "zero": false}, "axis": null},
  "x2": {"field": "to"},
  "y": {"datum": 0, "type": "quantitative", "scale": {"domain": [-5.0333, 3.0778], "nice": false, "zero": false}, "axis": null},
  "y2": {"datum": 1},
  "color": {"field": "level", "type": "ordinal", "legend": null}
 }},
{"data": {"name": "ticks"}, "transform": [{"filter": "datum.kind === 'major'"}], "mark": {"type": "rule", "color": "#000000", "strokeWidth": 2},
 "encoding": {"x": {"field": "t", "type": "quantitative", "scale": {"domain": [-47.82, 75.29], "nice": false, "zero": false}, "axis": null},
  "y": {"datum": 1, "type": "quantitative", "scale": {"domain": [-5.0333, 3.0778], "nice": false, "zero": false}, "axis": null}, "y2": {"datum": 1.2}}},
{"data": {"name": "ticks"}, "transform": [{"filter": "datum.kind === 'minor'"}], "mark": {"type": "rule", "color": "#000000", "strokeWidth": 2},
 "encoding": {"x": {"field": "t", "type": "quantitative", "scale": {"domain": [-47.82, 75.29], "nice": false, "zero": false}, "axis": null},
  "y": {"datum": 1, "type": "quantitative", "scale": {"domain": [-5.0333, 3.0778], "nice": false, "zero": false}, "axis": null}, "y2": {"datum": 1.1}}},
{"data": {"name": "labels"}, "mark": {"type": "text", "angle": 270, "align": "left", "baseline": "middle", "font": "Liberation Sans", "fontSize": 68, "color": "#000000"},
 "encoding": {"x": {"field": "t", "type": "quantitative", "scale": {"domain": [-47.82, 75.29], "nice": false, "zero": false}, "axis": null},
  "y": {"datum": 1.47, "type": "quantitative", "scale": {"domain": [-5.0333, 3.0778], "nice": false, "zero": false}, "axis": null}, "text": {"field": "label"}}},
{"data": {"values": [{"title": "H2.Mass Fraction"}]}, "mark": {"type": "text", "align": "left", "baseline": "alphabetic", "font": "Liberation Sans", "fontSize": 65, "color": "#000000"},
 "encoding": {"x": {"datum": 0.1, "type": "quantitative", "scale": {"domain": [-47.82, 75.29], "nice": false, "zero": false}, "axis": null},
  "y": {"datum": -0.83, "type": "quantitative", "scale": {"domain": [-5.0333, 3.0778], "nice": false, "zero": false}, "axis": null}, "text": {"field": "title"}}}
]},
{"layer": [
{"data": {"name": "bands"}, "transform": [{"filter": "datum.panel === 3 && datum.part === 'wall'"}], "mark": {"type": "rect", "color": "#c3c3c3"},
 "encoding": {"x": {"datum": 0, "type": "quantitative", "scale": {"domain": [-0.18149, 1.01301], "nice": false, "zero": false}, "axis": null}, "x2": {"datum": 1},
  "y": {"field": "r0", "type": "quantitative", "scale": {"domain": [-1.4066, 6.6154], "nice": false, "zero": false}, "axis": null}, "y2": {"field": "r1"}}},
{"data": {"name": "contours"}, "transform": [{"filter": "datum.panel === 3"}], "mark": {"type": "area", "interpolate": "monotone"},
 "encoding": {"x": {"field": "z", "type": "quantitative", "scale": {"domain": [-0.18149, 1.01301], "nice": false, "zero": false}, "axis": null},
  "y": {"field": "r", "type": "quantitative", "stack": null, "scale": {"domain": [-1.4066, 6.6154], "nice": false, "zero": false}, "axis": null}, "y2": {"datum": 0},
  "color": {"field": "level", "type": "ordinal", "legend": null}}},
{"data": {"name": "bands"}, "transform": [{"filter": "datum.panel === 3 && datum.part === 'blue'"}], "mark": {"type": "rect", "color": "#0014ff"},
 "encoding": {"x": {"datum": 0, "type": "quantitative", "scale": {"domain": [-0.18149, 1.01301], "nice": false, "zero": false}, "axis": null}, "x2": {"datum": 1},
  "y": {"field": "r0", "type": "quantitative", "scale": {"domain": [-1.4066, 6.6154], "nice": false, "zero": false}, "axis": null}, "y2": {"field": "r1"}}},
{"data": {"name": "bands"}, "transform": [{"filter": "datum.panel === 3 && datum.part === 'edge'"}], "mark": {"type": "rect", "color": "#8f97ee"},
 "encoding": {"x": {"datum": 0, "type": "quantitative", "scale": {"domain": [-0.18149, 1.01301], "nice": false, "zero": false}, "axis": null}, "x2": {"datum": 1},
  "y": {"field": "r0", "type": "quantitative", "scale": {"domain": [-1.4066, 6.6154], "nice": false, "zero": false}, "axis": null}, "y2": {"field": "r1"}}},
{"data": {"name": "names"}, "transform": [{"filter": "datum.panel === 3"}], "mark": {"type": "text", "angle": 270, "align": "center", "baseline": "alphabetic", "font": "Liberation Serif", "fontWeight": "bold", "fontSize": 95, "color": "#000000"},
 "encoding": {"x": {"datum": -0.1488, "type": "quantitative", "scale": {"domain": [-0.18149, 1.01301], "nice": false, "zero": false}, "axis": null},
  "y": {"datum": 2.846, "type": "quantitative", "scale": {"domain": [-1.4066, 6.6154], "nice": false, "zero": false}, "axis": null}, "text": {"field": "name"}}}
]}
],
"resolve": {"scale": {"x": "independent", "y": "independent"}}
},
{
"width": 3949, "height": 789,
"layer": [
{"layer": [
{"data": {"name": "bar"}, "mark": {"type": "rect"},
 "encoding": {
  "x": {"field": "from", "type": "quantitative", "scale": {"domain": [-48.0, 76.3], "nice": false, "zero": false}, "axis": null},
  "x2": {"field": "to"},
  "y": {"datum": 0, "type": "quantitative", "scale": {"domain": [-4.7723, 3.0396], "nice": false, "zero": false}, "axis": null},
  "y2": {"datum": 1},
  "color": {"field": "level", "type": "ordinal", "legend": null}
 }},
{"data": {"name": "ticks"}, "transform": [{"filter": "datum.kind === 'major'"}], "mark": {"type": "rule", "color": "#000000", "strokeWidth": 2},
 "encoding": {"x": {"field": "t", "type": "quantitative", "scale": {"domain": [-48.0, 76.3], "nice": false, "zero": false}, "axis": null},
  "y": {"datum": 1, "type": "quantitative", "scale": {"domain": [-4.7723, 3.0396], "nice": false, "zero": false}, "axis": null}, "y2": {"datum": 1.2}}},
{"data": {"name": "ticks"}, "transform": [{"filter": "datum.kind === 'minor'"}], "mark": {"type": "rule", "color": "#000000", "strokeWidth": 2},
 "encoding": {"x": {"field": "t", "type": "quantitative", "scale": {"domain": [-48.0, 76.3], "nice": false, "zero": false}, "axis": null},
  "y": {"datum": 1, "type": "quantitative", "scale": {"domain": [-4.7723, 3.0396], "nice": false, "zero": false}, "axis": null}, "y2": {"datum": 1.1}}},
{"data": {"name": "labels"}, "mark": {"type": "text", "angle": 270, "align": "left", "baseline": "middle", "font": "Liberation Sans", "fontSize": 68, "color": "#000000"},
 "encoding": {"x": {"field": "t", "type": "quantitative", "scale": {"domain": [-48.0, 76.3], "nice": false, "zero": false}, "axis": null},
  "y": {"datum": 1.47, "type": "quantitative", "scale": {"domain": [-4.7723, 3.0396], "nice": false, "zero": false}, "axis": null}, "text": {"field": "label"}}},
{"data": {"values": [{"title": "H2.Mass Fraction"}]}, "mark": {"type": "text", "align": "left", "baseline": "alphabetic", "font": "Liberation Sans", "fontSize": 65, "color": "#000000"},
 "encoding": {"x": {"datum": 0.1, "type": "quantitative", "scale": {"domain": [-48.0, 76.3], "nice": false, "zero": false}, "axis": null},
  "y": {"datum": -0.83, "type": "quantitative", "scale": {"domain": [-4.7723, 3.0396], "nice": false, "zero": false}, "axis": null}, "text": {"field": "title"}}}
]},
{"layer": [
{"data": {"name": "bands"}, "transform": [{"filter": "datum.panel === 4 && datum.part === 'wall'"}], "mark": {"type": "rect", "color": "#c3c3c3"},
 "encoding": {"x": {"datum": 0, "type": "quantitative", "scale": {"domain": [-0.18608, 1.02452], "nice": false, "zero": false}, "axis": null}, "x2": {"datum": 1},
  "y": {"field": "r0", "type": "quantitative", "scale": {"domain": [-1.0769, 6.5096], "nice": false, "zero": false}, "axis": null}, "y2": {"field": "r1"}}},
{"data": {"name": "contours"}, "transform": [{"filter": "datum.panel === 4"}], "mark": {"type": "area", "interpolate": "monotone"},
 "encoding": {"x": {"field": "z", "type": "quantitative", "scale": {"domain": [-0.18608, 1.02452], "nice": false, "zero": false}, "axis": null},
  "y": {"field": "r", "type": "quantitative", "stack": null, "scale": {"domain": [-1.0769, 6.5096], "nice": false, "zero": false}, "axis": null}, "y2": {"datum": 0},
  "color": {"field": "level", "type": "ordinal", "legend": null}}},
{"data": {"name": "bands"}, "transform": [{"filter": "datum.panel === 4 && datum.part === 'blue'"}], "mark": {"type": "rect", "color": "#0014ff"},
 "encoding": {"x": {"datum": 0, "type": "quantitative", "scale": {"domain": [-0.18608, 1.02452], "nice": false, "zero": false}, "axis": null}, "x2": {"datum": 1},
  "y": {"field": "r0", "type": "quantitative", "scale": {"domain": [-1.0769, 6.5096], "nice": false, "zero": false}, "axis": null}, "y2": {"field": "r1"}}},
{"data": {"name": "bands"}, "transform": [{"filter": "datum.panel === 4 && datum.part === 'edge'"}], "mark": {"type": "rect", "color": "#8f97ee"},
 "encoding": {"x": {"datum": 0, "type": "quantitative", "scale": {"domain": [-0.18608, 1.02452], "nice": false, "zero": false}, "axis": null}, "x2": {"datum": 1},
  "y": {"field": "r0", "type": "quantitative", "scale": {"domain": [-1.0769, 6.5096], "nice": false, "zero": false}, "axis": null}, "y2": {"field": "r1"}}},
{"data": {"name": "names"}, "transform": [{"filter": "datum.panel === 4"}], "mark": {"type": "text", "angle": 270, "align": "center", "baseline": "alphabetic", "font": "Liberation Serif", "fontWeight": "bold", "fontSize": 95, "color": "#000000"},
 "encoding": {"x": {"datum": -0.153, "type": "quantitative", "scale": {"domain": [-0.18608, 1.02452], "nice": false, "zero": false}, "axis": null},
  "y": {"datum": 2.596, "type": "quantitative", "scale": {"domain": [-1.0769, 6.5096], "nice": false, "zero": false}, "axis": null}, "text": {"field": "name"}}}
]}
],
"resolve": {"scale": {"x": "independent", "y": "independent"}}
}
]
}
